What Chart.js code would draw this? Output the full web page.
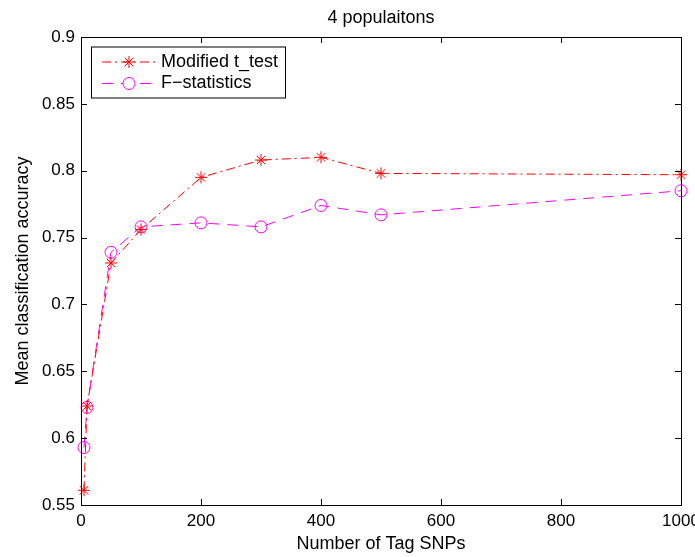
<!DOCTYPE html>
<html>
<head>
<meta charset="utf-8">
<script src="https://cdn.jsdelivr.net/npm/chart.js@4/dist/chart.umd.min.js"></script>
<style>
  body { margin: 0; background: #fff; }
  #wrap { width: 695px; height: 557px; }
</style>
</head>
<body>
<div id="wrap"><canvas id="chart"></canvas></div>
<script>
// data
const snps = [5, 10, 50, 100, 200, 300, 400, 500, 1000];
const tTest = [0.561, 0.624, 0.731, 0.756, 0.795, 0.808, 0.810, 0.798, 0.797];
const fStat = [0.593, 0.623, 0.739, 0.758, 0.761, 0.758, 0.774, 0.767, 0.785];
const xTicks = [0, 200, 400, 600, 800, 1000];
const yTicks = [0.55, 0.6, 0.65, 0.7, 0.75, 0.8, 0.85, 0.9];

const font = "Liberation Sans, Arial, Helvetica, sans-serif";
const RED = "#ff0000";
const MAGENTA = "#ff00ff";
const TICK_SIZE = 17;
const TEXT_SIZE = 18;

function toPoints(xs, ys) {
  return xs.map((x, i) => ({ x: x, y: ys[i] }));
}

// matlab style box, inward ticks, title and legend
const matlabAxes = {
  id: "matlabAxes",
  afterDatasetsDraw(chart) {
    const ctx = chart.ctx;
    const a = chart.chartArea;
    const xs = chart.scales.x;
    const ys = chart.scales.y;
    ctx.save();
    ctx.strokeStyle = "#000";
    ctx.lineWidth = 1;
    ctx.strokeRect(Math.round(a.left) + 0.5, Math.round(a.top) + 0.5,
      Math.round(a.right - a.left), Math.round(a.bottom - a.top));
    ctx.beginPath();
    const tl = 6;
    xTicks.forEach((v) => {
      const px = Math.round(xs.getPixelForValue(v)) + 0.5;
      ctx.moveTo(px, a.bottom); ctx.lineTo(px, a.bottom - tl);
      ctx.moveTo(px, a.top); ctx.lineTo(px, a.top + tl);
    });
    yTicks.forEach((v) => {
      const py = Math.round(ys.getPixelForValue(v)) + 0.5;
      ctx.moveTo(a.left, py); ctx.lineTo(a.left + tl, py);
      ctx.moveTo(a.right, py); ctx.lineTo(a.right - tl, py);
    });
    ctx.stroke();

    // title
    ctx.fillStyle = "#000";
    ctx.font = TEXT_SIZE + "px " + font;
    ctx.textAlign = "center";
    ctx.textBaseline = "middle";
    ctx.fillText("4 populaitons", (a.left + a.right) / 2, 18);

    // legend
    const bx = 91, by = 46.5, bw = 194, bh = 51;
    ctx.fillStyle = "#fff";
    ctx.fillRect(bx, by, bw, bh);
    ctx.strokeStyle = "#000";
    ctx.strokeRect(bx + 0.5, by + 0.5, bw, bh);
    const rows = [
      { label: "Modified t_test", color: RED, dash: [9, 4, 2, 4], style: "star", y: 62 },
      { label: "F\u2212statistics", color: MAGENTA, dash: [11, 8], style: "circle", y: 83.5 }
    ];
    rows.forEach((r) => {
      ctx.strokeStyle = r.color;
      ctx.lineWidth = 1;
      ctx.setLineDash(r.dash);
      ctx.beginPath();
      ctx.moveTo(102, r.y);
      ctx.lineTo(157, r.y);
      ctx.stroke();
      ctx.setLineDash([]);
      ctx.fillStyle = r.style === "circle" ? "#fff" : r.color;
      Chart.helpers.drawPoint(ctx, { pointStyle: r.style, radius: 6, borderWidth: 1, rotation: 0 }, 129, r.y);
      ctx.fillStyle = "#000";
      ctx.font = TEXT_SIZE + "px " + font;
      ctx.textAlign = "left";
      ctx.textBaseline = "middle";
      ctx.fillText(r.label, 161, r.y);
    });
    ctx.restore();
  }
};

new Chart(document.getElementById("chart").getContext("2d"), {
  type: "scatter",
  data: {
    datasets: [
      {
        label: "Modified t_test",
        data: toPoints(snps, tTest),
        showLine: true,
        borderColor: RED,
        backgroundColor: RED,
        borderWidth: 1,
        borderDash: [9, 4, 2, 4],
        pointStyle: "star",
        pointRadius: 6,
        pointBorderWidth: 1,
        pointBorderColor: RED,
        clip: false
      },
      {
        label: "F-statistics",
        data: toPoints(snps, fStat),
        showLine: true,
        borderColor: MAGENTA,
        backgroundColor: "rgba(0,0,0,0)",
        borderWidth: 1,
        borderDash: [11, 8],
        pointStyle: "circle",
        pointRadius: 6,
        pointBorderWidth: 1,
        pointBorderColor: MAGENTA,
        clip: false
      }
    ]
  },
  options: {
    responsive: true,
    maintainAspectRatio: false,
    animation: false,
    layout: { padding: { left: 0, right: 14, top: 37, bottom: 0 } },
    plugins: {
      legend: { display: false },
      title: { display: false },
      tooltip: { enabled: false }
    },
    scales: {
      x: {
        type: "linear",
        min: 0,
        max: 1000,
        afterBuildTicks: (s) => { s.ticks = xTicks.map((v) => ({ value: v })); },
        afterFit: (s) => { s.height = 52; s.paddingLeft = 0; s.paddingRight = 0; },
        grid: { display: false, drawTicks: false },
        border: { display: false },
        ticks: {
          color: "#000",
          font: { family: font, size: TICK_SIZE },
          padding: 6,
          maxRotation: 0,
          callback: (v) => String(v)
        },
        title: {
          display: true,
          text: "Number of Tag SNPs",
          color: "#000",
          font: { family: font, size: TEXT_SIZE },
          padding: { top: 0, bottom: 2 }
        }
      },
      y: {
        type: "linear",
        min: 0.55,
        max: 0.9,
        afterBuildTicks: (s) => { s.ticks = yTicks.map((v) => ({ value: v })); },
        afterFit: (s) => { s.width = 81; },
        grid: { display: false, drawTicks: false },
        border: { display: false },
        ticks: {
          color: "#000",
          font: { family: font, size: TICK_SIZE },
          padding: 6,
          callback: (v) => String(+v.toFixed(2))
        },
        title: {
          display: true,
          text: "Mean classification accuracy",
          color: "#000",
          font: { family: font, size: TEXT_SIZE },
          padding: { top: 12, bottom: 0 }
        }
      }
    }
  },
  plugins: [matlabAxes]
});
</script>
</body>
</html>
